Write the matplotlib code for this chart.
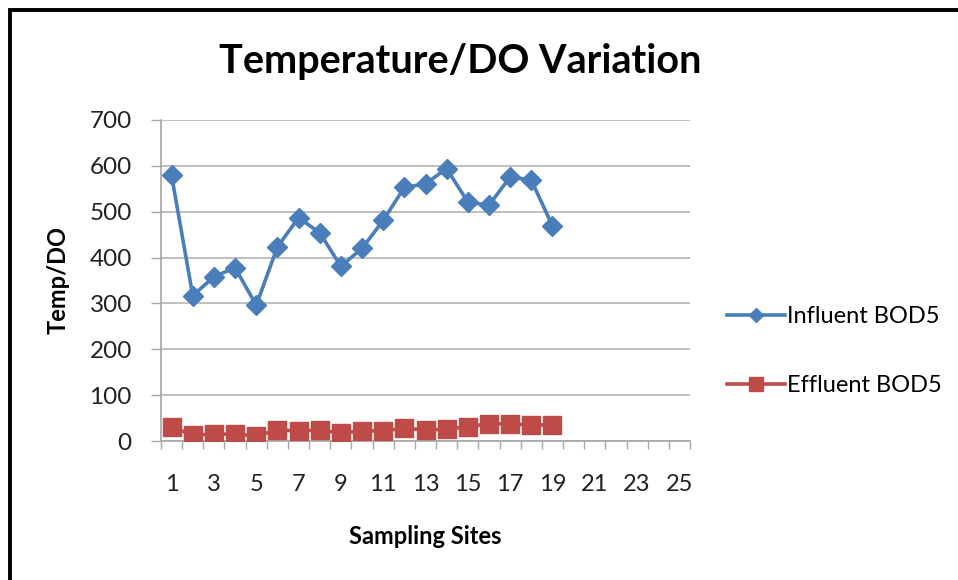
import numpy as np
import matplotlib
matplotlib.use('Agg')
import matplotlib.pyplot as plt
from matplotlib.patches import Rectangle

plt.rcParams['font.family'] = ['Lato', 'DejaVu Sans']

# sampling sites 1..19 (axis runs to 25)
sites = np.arange(1, 20)
influent = [579, 317, 358, 378, 296, 423, 487, 454, 381, 420,
            481, 553, 561, 594, 521, 514, 576, 569, 469]
effluent = [30, 13, 15, 15, 11, 24, 22, 24, 17, 22,
            22, 28, 24, 26, 31, 38, 37, 35, 35]
n_cats = 25
xtick_labels = [str(i) for i in range(1, 26, 2)]

fig = plt.figure(figsize=(9.58, 5.8), dpi=100)

# black frame around the chart (open at right and bottom, cut by the image edge)
fig.patches.append(Rectangle((10 / 958, -0.05), 1.0, 1 - 10 / 580 + 0.05,
                             transform=fig.transFigure, fill=False,
                             edgecolor='black', linewidth=2.8, zorder=0))

ax = fig.add_axes([161 / 958, 1 - 441 / 580, 529 / 958, 321 / 580])

ax.plot(sites, influent, color='#4A7EBB', linewidth=2.6, marker='D',
        markersize=10, label='Influent BOD5', zorder=3)
ax.plot(sites, effluent, color='#BE4B48', linewidth=2.6, marker='s',
        markersize=13.5, label='Effluent BOD5', zorder=3)

ax.set_xlim(0.5, n_cats + 0.5)
ax.set_ylim(0, 700)
ax.set_yticks(np.arange(0, 701, 100))
ax.set_xticks(np.arange(1, 26, 2))
ax.set_xticklabels(xtick_labels)
ax.set_xticks(np.arange(0.5, n_cats + 1, 1), minor=True)
ax.tick_params(axis='x', which='major', length=0, pad=24, labelsize=17,
               labelcolor='#222222')
ax.tick_params(axis='x', which='minor', length=6, color='#a6a6a6', width=1)
ax.tick_params(axis='y', length=7, color='#a6a6a6', width=1, pad=14,
               labelsize=17.5, labelcolor='#222222')

ax.grid(axis='y', color='#b4b4b4', linewidth=1.2)
ax.set_axisbelow(True)
for side in ['top', 'right']:
    ax.spines[side].set_visible(False)
for side in ['left', 'bottom']:
    ax.spines[side].set_color('#a6a6a6')
    ax.spines[side].set_linewidth(1.2)

ax.set_xlabel('Sampling Sites', fontsize=17, fontweight='bold', va='center')
ax.xaxis.set_label_coords(0.499, (441 - 537) / 321)
ax.set_ylabel('Temp/DO', fontsize=17, fontweight='bold', va='center')
ax.yaxis.set_label_coords((58 - 161) / 529, 0.5)

fig.text(460 / 958, 1 - 62 / 580, 'Temperature/DO Variation', fontsize=28.5,
         fontweight='bold', ha='center', va='center')

ax.legend(loc='center left', bbox_to_anchor=(727 / 958, 1 - 351 / 580),
          bbox_transform=fig.transFigure, frameon=False, borderpad=0,
          borderaxespad=0, fontsize=17, handlelength=2.45, handletextpad=0.1,
          labelspacing=2.05, markerscale=0.75)

fig.savefig('out.png', dpi=100)
